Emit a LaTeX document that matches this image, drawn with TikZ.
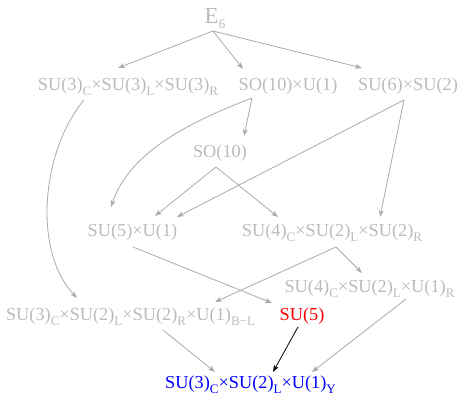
\documentclass[tikz,border=0pt]{standalone}
\usepackage{fontspec}
\setmainfont{Liberation Serif}
\usetikzlibrary{arrows.meta}
\definecolor{txtgray}{RGB}{187,187,187}
\definecolor{linegray}{RGB}{170,170,170}
\newcommand\lowsub[1]{\raisebox{-4.5pt}{\fontsize{13}{13}\selectfont #1}}
\tikzset{
  grp/.style={anchor=base, inner sep=0pt, text=txtgray, font=\fontsize{18.3}{20}\selectfont},
  arr/.style={draw=linegray, line width=0.8pt, -{Stealth[length=7pt,width=5pt,inset=2pt]}},
  blackarr/.style={draw=black, line width=0.8pt, -{Stealth[length=7pt,width=5pt,inset=2pt]}}
}
\begin{document}
\begin{tikzpicture}[x=1pt,y=-1pt]
\useasboundingbox (0,0) rectangle (461,395);
\node[grp, font=\fontsize{23}{25}\selectfont] (e6) at (215,24) {E\lowsub{6}};
\node[grp] (su333) at (128,91) {SU(3)\lowsub{C}×SU(3)\lowsub{L}×SU(3)\lowsub{R}};
\node[grp] (so10u1) at (288,91) {SO(10)×U(1)};
\node[grp] (su6su2) at (408,91) {SU(6)×SU(2)};
\node[grp] (so10) at (220,158) {SO(10)};
\node[grp] (su5u1) at (132.5,237) {SU(5)×U(1)};
\node[grp] (su422) at (332,237) {SU(4)\lowsub{C}×SU(2)\lowsub{L}×SU(2)\lowsub{R}};
\node[grp] (su421) at (369.5,293) {SU(4)\lowsub{C}×SU(2)\lowsub{L}×U(1)\lowsub{R}};
\node[grp] (su3221) at (130.5,321) {SU(3)\lowsub{C}×SU(2)\lowsub{L}×SU(2)\lowsub{R}×U(1)\lowsub{B−L}};
\node[grp, text=red] (su5) at (302,321) {SU(5)};
\node[grp, text=blue] (sm) at (250.5,389) {SU(3)\lowsub{C}×SU(2)\lowsub{L}×U(1)\lowsub{Y}};

\draw[arr] ([shift={(-2,7)}]e6.base) -- ([shift={(-10,-23)}]su333.base);
\draw[arr] ([shift={(-2,7)}]e6.base) -- ([shift={(-45,-22)}]so10u1.base);
\draw[arr] ([shift={(-2,7)}]e6.base) -- ([shift={(-46,-23)}]su6su2.base);
\draw[arr] ([shift={(-44,9)}]su333.base) .. controls +(-42,50) and +(-45,-48) .. ([shift={(-53.5,-23)}]su3221.base);
\draw[arr] ([shift={(-36,7)}]so10u1.base) -- ([shift={(24,-22)}]so10.base);
\draw[arr] ([shift={(-36,7)}]so10u1.base) .. controls +(-57,22) and +(19,-57) .. ([shift={(-21.5,-30)}]su5u1.base);
\draw[arr] ([shift={(-4,9)}]su6su2.base) -- ([shift={(44.5,-20)}]su5u1.base);
\draw[arr] ([shift={(-4,9)}]su6su2.base) -- ([shift={(48,-20)}]su422.base);
\draw[arr] ([shift={(-4,9)}]so10.base) -- ([shift={(22.5,-21)}]su5u1.base);
\draw[arr] ([shift={(-4,9)}]so10.base) -- ([shift={(-54,-20)}]su422.base);
\draw[arr] ([shift={(0.5,10)}]su5u1.base) -- ([shift={(-30,-18)}]su5.base);
\draw[arr] ([shift={(4,10)}]su422.base) -- ([shift={(84.5,-19)}]su3221.base);
\draw[arr] ([shift={(4,10)}]su422.base) -- ([shift={(-7.5,-20)}]su421.base);
\draw[arr] ([shift={(32.5,9)}]su3221.base) -- ([shift={(-35.5,-17)}]sm.base);
\draw[blackarr] ([shift={(-4,6)}]su5.base) -- ([shift={(22.5,-17)}]sm.base);
\draw[arr] ([shift={(36.5,6)}]su421.base) -- ([shift={(61.5,-17)}]sm.base);
\end{tikzpicture}
\end{document}
